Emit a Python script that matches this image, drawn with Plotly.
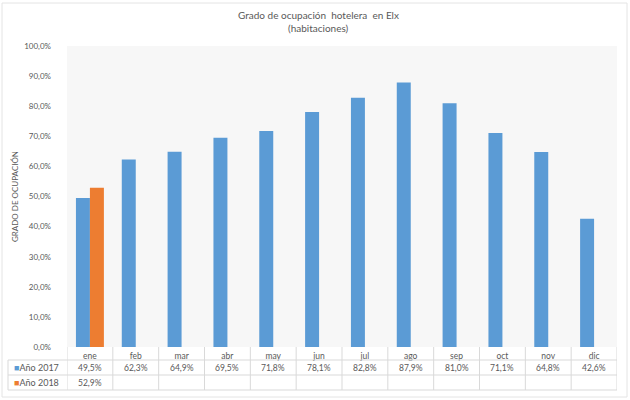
import plotly.graph_objects as go

meses = ["ene", "feb", "mar", "abr", "may", "jun", "jul", "ago", "sep", "oct", "nov", "dic"]
anio_2017 = [49.5, 62.3, 64.9, 69.5, 71.8, 78.1, 82.8, 87.9, 81.0, 71.1, 64.8, 42.6]
anio_2018 = [52.9]
serie_nombres = ["Año 2017", "Año 2018"]
colores = ["#5b9bd5", "#ed7d31"]
titulo_lineas = ["Grado de ocupación  hotelera  en Elx", "(habitaciones)"]
eje_y_titulo = "GRADO DE OCUPACIÓN"

FONT = "Lato, 'Open Sans', sans-serif"
GRAY = "#595959"
LINE = "#d9d9d9"

W, H = 630, 400
L, R, T, B = 67, 13, 46, 53
PW = W - L - R
PH = H - T - B


def py(px):
    return (H - B - px) / PH


def px_x(px):
    return (px - L) / PW


def fmt(v):
    return f"{v:.1f}".replace(".", ",") + "%"


fig = go.Figure()
series = [anio_2017, anio_2018]
for name, vals, col in zip(serie_nombres, series, colores):
    fig.add_trace(go.Bar(
        x=meses[:len(vals)], y=[v / 100 for v in vals], name=name,
        marker=dict(color=col, line=dict(width=0)), showlegend=False,
    ))

shapes = []
ann = []
for ypx in (360, 375, 390):
    shapes.append(dict(type="line", xref="paper", yref="paper",
                       x0=px_x(8), x1=1, y0=py(ypx), y1=py(ypx),
                       line=dict(color=LINE, width=1)))
for i in range(len(meses) + 1):
    shapes.append(dict(type="line", xref="x", yref="paper",
                       x0=i - 0.5, x1=i - 0.5, y0=0, y1=py(390),
                       line=dict(color=LINE, width=1)))
shapes.append(dict(type="line", xref="paper", yref="paper",
                   x0=px_x(8), x1=px_x(8), y0=py(360), y1=py(390),
                   line=dict(color=LINE, width=1)))
shapes.append(dict(type="rect", xref="paper", yref="paper",
                   x0=px_x(2), x1=px_x(627), y0=py(397), y1=py(3),
                   line=dict(color="#e4e4e4", width=1), fillcolor="rgba(0,0,0,0)", layer="below"))

for linea, ty in zip(titulo_lineas, (15, 28)):
    ann.append(dict(xref="paper", yref="paper", x=px_x(318), y=py(ty),
                    xanchor="center", yanchor="middle", showarrow=False,
                    text=linea, font=dict(family=FONT, size=10, color=GRAY)))

row_y = [368, 383]
for name, vals, col, ry in zip(serie_nombres, series, colores, row_y):
    ann.append(dict(xref="paper", yref="paper", x=px_x(12), y=py(ry),
                    xanchor="left", yanchor="middle", showarrow=False,
                    text=f"<span style='color:{col}'>■</span>{name}",
                    font=dict(family=FONT, size=9, color=GRAY)))
    for m, v in zip(meses, vals):
        ann.append(dict(xref="x", yref="paper", x=m, y=py(ry),
                        xanchor="center", yanchor="middle", showarrow=False,
                        text=fmt(v), font=dict(family=FONT, size=8.5, color=GRAY)))

fig.update_layout(
    width=W, height=H,
    margin=dict(l=L, r=R, t=T, b=B),
    paper_bgcolor="white", plot_bgcolor="#f7f7f7",
    separators=",.",
    barmode="group", bargap=0.39, bargroupgap=0,
    xaxis=dict(categoryorder="array", categoryarray=meses, showgrid=False,
               showline=False, ticks="", tickfont=dict(family=FONT, size=8.5, color=GRAY),
               range=[-0.5, len(meses) - 0.5], ticklabelstandoff=2),
    yaxis=dict(range=[0, 1.0], dtick=0.1, tickformat=".1%", showgrid=False,
               zeroline=False, showline=False, ticks="",
               tickfont=dict(family=FONT, size=8, color=GRAY),
               ticklabelstandoff=15,
               title=dict(text=eje_y_titulo, standoff=4,
                          font=dict(family=FONT, size=8, color=GRAY))),
    shapes=shapes, annotations=ann,
)

fig.write_html("out.html")
